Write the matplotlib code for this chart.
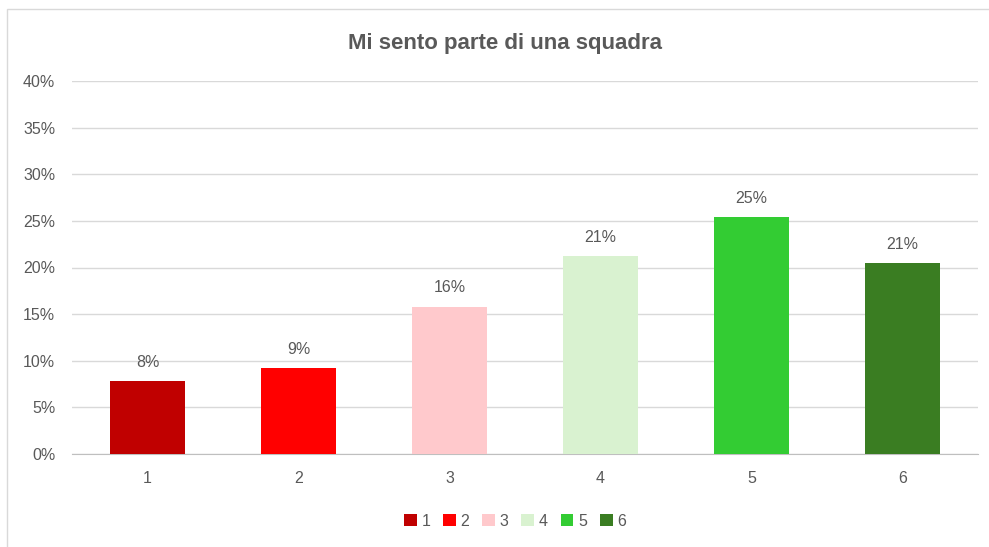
import matplotlib.pyplot as plt
from matplotlib.patches import Rectangle
from matplotlib.ticker import FuncFormatter

categories = ["1", "2", "3", "4", "5", "6"]
values = [7.8, 9.2, 15.8, 21.2, 25.4, 20.5]
labels = ["8%", "9%", "16%", "21%", "25%", "21%"]
colors = ["#C00000", "#FF0000", "#FFC9CC", "#D9F2D0", "#33CC33", "#3A7D22"]

plt.rcParams['font.family'] = ['Liberation Sans Narrow', 'Liberation Sans', 'DejaVu Sans']
txt = "#595959"

fig = plt.figure(figsize=(9.89, 5.47), dpi=100)
# light frame around the chart area (open at the bottom, as in the screenshot)
fig.patches.append(Rectangle((7/989, -0.05), 1.0, 1.05 - 9/547, transform=fig.transFigure,
                             fill=False, edgecolor="#D9D9D9", linewidth=1))
ax = fig.add_axes([72/989, 1 - 454/547, 906/989, 373/547])

x = range(len(categories))
bars = ax.bar(x, values, width=0.5, color=colors, label=categories, zorder=3)
for b, lab in zip(bars, labels):
    ax.text(b.get_x() + b.get_width() / 2, b.get_height() + 1.2, lab,
            ha="center", va="bottom", fontsize=11.5, color=txt)

ax.set_xlim(-0.5, 5.5)
ax.set_ylim(0, 40)
ax.set_yticks(range(0, 41, 5))
ax.yaxis.set_major_formatter(FuncFormatter(lambda v, p: "%d%%" % v))
ax.set_xticks(list(x))
ax.set_xticklabels(categories)
ax.grid(axis="y", color="#D9D9D9", linewidth=1, zorder=0)
for s in ["top", "right", "left"]:
    ax.spines[s].set_visible(False)
ax.spines["bottom"].set_color("#BFBFBF")
ax.tick_params(axis="both", length=0, labelsize=11.5, labelcolor=txt)
ax.tick_params(axis="x", pad=12)
ax.tick_params(axis="y", pad=12)

fig.text(505/989, 1 - 43/547, "Mi sento parte di una squadra", ha="center", va="center",
         fontsize=16, fontweight="bold", color=txt)

fig.legend(handles=bars, labels=categories, loc="center", bbox_to_anchor=(515/989, 1 - 521/547),
           ncol=6, frameon=False, fontsize=11.5, labelcolor=txt, handlelength=0.8, handleheight=0.8,
           handletextpad=0.3, columnspacing=0.8)

fig.savefig("out.png", dpi=100)
